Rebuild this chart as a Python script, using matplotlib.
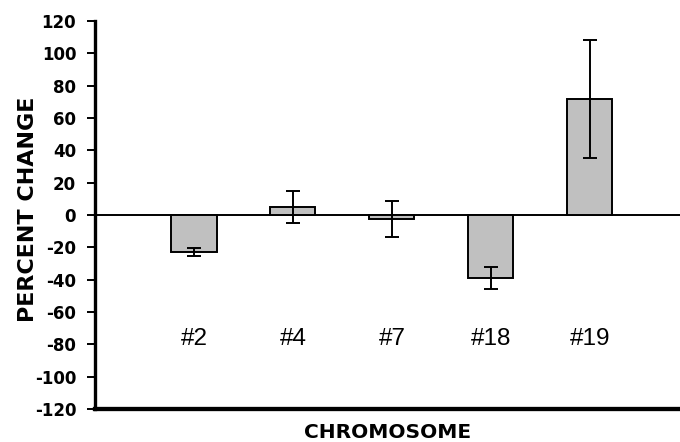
import matplotlib
matplotlib.use('Agg')
import matplotlib.pyplot as plt
import numpy as np

plt.rcParams['font.family'] = ['Liberation Sans', 'DejaVu Sans']

chromosomes = ['#2', '#4', '#7', '#18', '#19']
pct_change = [-23, 5, -2.5, -39, 72]
pct_err = [2.6, 9.7, 11, 7, 36.5]
y_ticks = list(range(-120, 121, 20))

fig = plt.figure(figsize=(6.8, 4.42), dpi=100)
ax = fig.add_axes([0.1397, 0.0747, 0.8603, 0.8778])

x = np.arange(1, len(chromosomes) + 1)
ax.bar(x, pct_change, width=0.455, color='#c0c0c0', edgecolor='black',
       linewidth=1.4, zorder=2)
ax.errorbar(x, pct_change, yerr=pct_err, fmt='none', ecolor='black',
            elinewidth=1.4, capsize=4.7, capthick=1.4, zorder=3)
ax.axhline(0, color='black', linewidth=1.4, zorder=1)

# category names sit inside the plot, below the bars
for xi, name in zip(x, chromosomes):
    ax.text(xi, -77, name, ha='center', va='center', fontsize=17.5)

ax.set_xlim(0, 5.91)
ax.set_ylim(-120, 120)
ax.set_yticks(y_ticks)
ax.set_yticklabels([str(t) for t in y_ticks], fontsize=12, fontweight='bold',
                   family='DejaVu Sans')
ax.set_xticks([])
ax.tick_params(axis='y', direction='out', length=5.5, width=1.4, pad=8)

ax.spines['top'].set_visible(False)
ax.spines['right'].set_visible(False)
ax.spines['left'].set_linewidth(2.4)
ax.spines['bottom'].set_linewidth(3.1)

ax.set_ylabel('PERCENT CHANGE', fontsize=16, fontweight='bold',
              family='DejaVu Sans')
ax.yaxis.set_label_coords(-0.098, 0.514)
ax.set_xlabel('CHROMOSOME', fontsize=14.5, fontweight='bold',
              family='DejaVu Sans', va='baseline')
ax.xaxis.set_label_coords(0.5, -0.0747)

fig.savefig('out.png', dpi=100)
